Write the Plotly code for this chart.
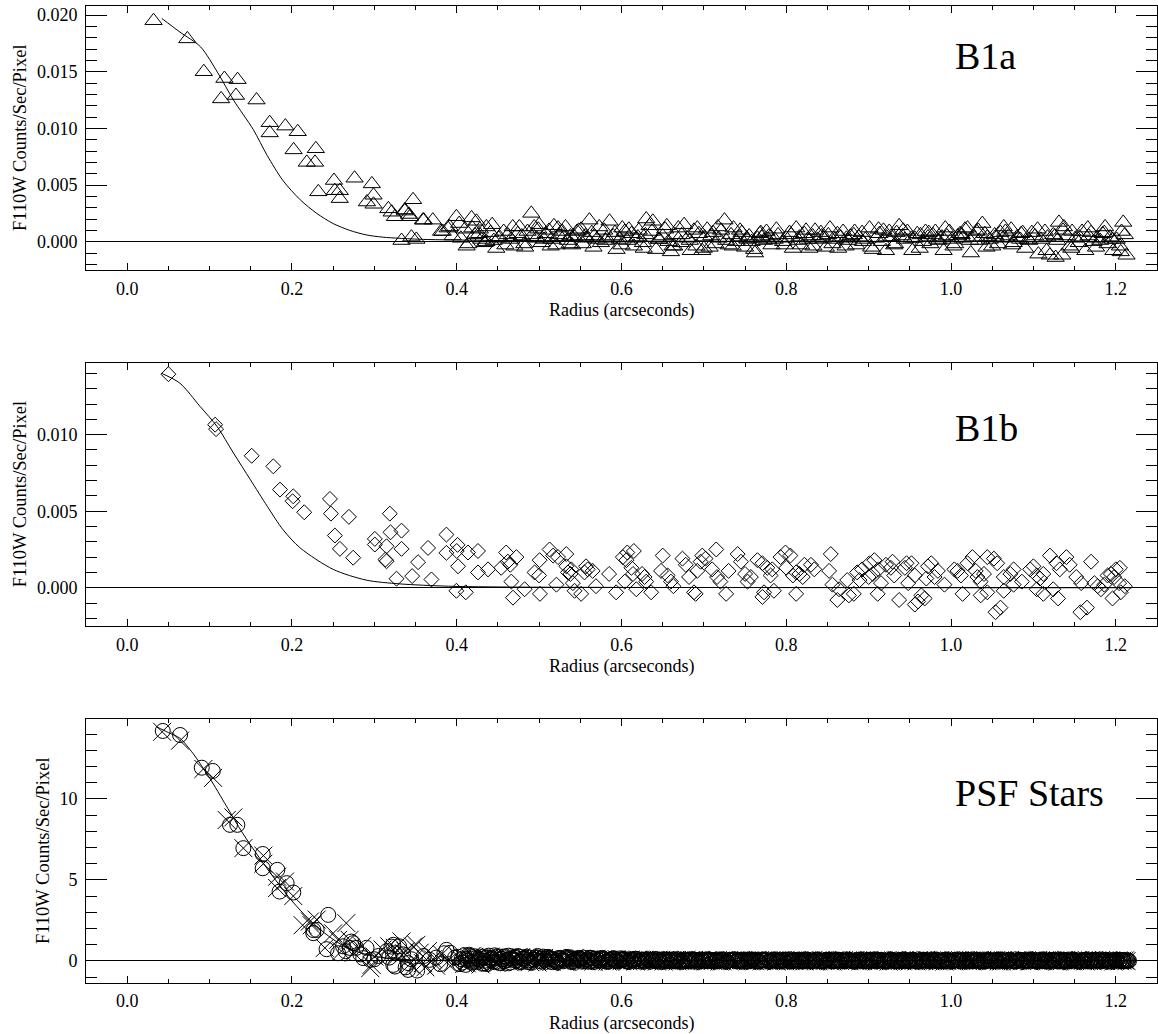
import plotly.graph_objects as go

# ---------------- Panel 1: B1a ----------------
b1a_x = [0.032, 0.073, 0.093, 0.118, 0.134, 0.114, 0.132, 0.157, 0.173, 0.173, 0.192, 0.207, 0.202, 0.229, 0.218, 0.228,
         0.232, 0.251, 0.252, 0.258, 0.258, 0.276, 0.297, 0.291, 0.299, 0.299, 0.317, 0.321, 0.325, 0.337, 0.347, 0.343,
         0.360, 0.371, 0.333, 0.345, 0.351, 0.383, 0.389, 0.337, 0.342, 0.359, 0.381, 0.3996, 0.3915, 0.395, 0.410, 0.418,
         0.424, 0.428, 0.436, 0.448, 0.436, 0.452, 0.462, 0.476, 0.482, 0.4905, 0.494, 0.500, 0.508, 0.518, 0.524, 0.532,
         0.538, 0.546, 0.540, 0.561, 0.557, 0.567, 0.575, 0.5855, 0.594, 0.590, 0.604, 0.612, 0.618, 0.630, 0.638, 0.634,
         0.626, 0.642, 0.650, 0.662, 0.660, 0.676, 0.672, 0.684, 0.694, 0.704, 0.698, 0.725, 0.714, 0.730, 0.740, 0.750,
         0.758, 0.770, 0.776, 0.762, 0.782, 0.796, 0.812, 0.808, 0.822, 0.828, 0.842, 0.838, 0.848, 0.862, 0.856, 0.878,
         0.872, 0.888, 0.901, 0.905, 0.913, 0.925, 0.921, 0.937, 0.941, 0.931, 0.953, 0.959, 0.969, 0.981, 0.975, 0.989,
         0.991, 1.001, 1.011, 1.017, 1.024, 1.020, 1.038, 1.034, 1.044, 1.050, 1.060, 1.066, 1.076, 1.084, 1.090, 1.102,
         1.106, 1.114, 1.120, 1.131, 1.127, 1.137, 1.135, 1.147, 1.159, 1.155, 1.163, 1.173, 1.187, 1.181, 1.193, 1.197,
         1.209, 1.211, 1.213, 1.205,
         0.405, 0.414, 0.422, 0.430, 0.441, 0.445, 0.457, 0.466, 0.470, 0.479, 0.486, 0.497, 0.503, 0.512, 0.515, 0.521,
         0.528, 0.535, 0.543, 0.551, 0.553, 0.564, 0.570, 0.579, 0.582, 0.598, 0.601, 0.607, 0.615, 0.621, 0.629, 0.646,
         0.653, 0.657, 0.665, 0.669, 0.680, 0.688, 0.691, 0.701, 0.707, 0.711, 0.718, 0.721, 0.733, 0.736, 0.743, 0.746,
         0.753, 0.755, 0.765, 0.768, 0.773, 0.779, 0.786, 0.790, 0.800, 0.804, 0.816, 0.818, 0.826, 0.832, 0.835, 0.845,
         0.851, 0.859, 0.866, 0.869, 0.875, 0.882, 0.885, 0.892, 0.896, 0.909, 0.916, 0.918, 0.928, 0.934, 0.944, 0.947,
         0.956, 0.963, 0.966, 0.972, 0.978, 0.985, 0.995, 0.998, 1.005, 1.008, 1.014, 1.028, 1.031, 1.041, 1.047, 1.053,
         1.057, 1.063, 1.070, 1.073, 1.080, 1.087, 1.094, 1.098, 1.109, 1.117, 1.124, 1.129, 1.141, 1.144, 1.151, 1.167,
         1.170, 1.177, 1.184, 1.190, 1.201, 1.207]
b1a_y = [0.0195, 0.0179, 0.0150, 0.0144, 0.0143, 0.0126, 0.0129, 0.0125, 0.0105, 0.0096, 0.0102, 0.0097, 0.0081, 0.0082,
         0.0070, 0.0070, 0.0044, 0.0054, 0.0045, 0.0045, 0.0038, 0.0056, 0.0051, 0.0035, 0.0041, 0.0033, 0.0029, 0.0026,
         0.0022, 0.0027, 0.0037, 0.0022, 0.0019, 0.0019, 0.0001, 0.0004, 0.0002, 0.0009, 0.0012, 0.0028, 0.0024, 0.0019,
         0.0009, 0.0022, 0.0013, 0.0005, 0.0011, 0.0021, 0.0018, 0.0011, 0.0013, -0.0006, 0.0000, 0.0004, 0.0006, 0.0013,
         -0.0002, 0.0025, 0.0013, 0.0015, 0.0007, 0.0014, 0.0006, 0.0013, 0.0005, 0.0009, -0.0003, 0.0019, 0.0003, 0.0005,
         -0.0001, 0.0018, -0.0007, 0.0005, 0.0009, 0.0007, 0.0003, 0.0020, 0.0018, 0.0014, -0.0001, -0.0007, 0.0005,
         -0.0004, -0.0009, 0.0015, -0.0001, -0.0008, 0.0007, 0.0011, -0.0008, 0.0019, -0.0002, -0.0003, 0.0000, -0.0005,
         0.0000, 0.0004, 0.0009, -0.0010, -0.0003, 0.0000, 0.0012, -0.0006, 0.0007, -0.0006, 0.0008, 0.0002, -0.0005,
         0.0007, -0.0002, 0.0005, -0.0004, 0.0004, 0.0012, -0.0007, 0.0007, 0.0009, -0.0008, 0.0014, 0.0005, -0.0003,
         -0.0008, 0.0007, 0.0009, 0.0009, -0.0002, 0.0004, -0.0008, 0.0002, 0.0007, 0.0011, -0.0010, 0.0012, 0.0016,
         0.0001, 0.0004, -0.0004, 0.0008, 0.0009, -0.0001, 0.0002, -0.0006, 0.0005, -0.0011, 0.0009, -0.0012, 0.0017,
         -0.0014, 0.0013, -0.0012, 0.0009, 0.0009, -0.0001, -0.0008, 0.0000, 0.0013, 0.0001, 0.0004, -0.0008, 0.0017,
         0.0006, -0.0012, -0.0004,
         0.0003, -0.0002, 0.0006, 0.0002, 0.0008, 0.0001, 0.0009, 0.0002, -0.0004, 0.0005, 0.0009, 0.0003, -0.0001,
         0.0010, 0.0002, -0.0003, 0.0009, 0.0001, 0.0004, 0.0011, -0.0002, 0.0008, 0.0002, 0.0010, 0.0003, 0.0002,
         0.0012, 0.0001, -0.0004, 0.0010, 0.0006, 0.0002, 0.0011, 0.0000, 0.0006, 0.0012, 0.0003, 0.0010, -0.0004,
         0.0004, -0.0005, 0.0008, 0.0003, 0.0010, 0.0006, 0.0012, 0.0004, 0.0008, 0.0002, 0.0005, 0.0003, 0.0007,
         0.0001, 0.0005, 0.0002, 0.0006, 0.0003, 0.0008, 0.0004, -0.0003, 0.0002, 0.0005, 0.0010, 0.0003, 0.0006,
         0.0002, 0.0004, 0.0009, 0.0001, 0.0006, -0.0003, 0.0008, 0.0002, 0.0003, 0.0000, 0.0010, 0.0004, 0.0008,
         0.0002, 0.0009, 0.0003, 0.0006, 0.0000, 0.0004, 0.0006, 0.0001, 0.0005, 0.0009, -0.0002, 0.0005, 0.0003,
         0.0004, 0.0009, 0.0007, 0.0002, 0.0006, -0.0002, 0.0003, 0.0005, 0.0011, 0.0004, 0.0008, 0.0002, 0.0008,
         0.0002, 0.0004, 0.0006, 0.0001, 0.0005, -0.0004, 0.0003, 0.0005, 0.0008, 0.0003, 0.0007, -0.0002, 0.0002,
         0.0009]
b1a_extra_x = [0.403, 0.412, 0.419, 0.427, 0.434, 0.443, 0.451, 0.459, 0.468, 0.474,
               0.483, 0.492, 0.499, 0.506, 0.514, 0.523, 0.530, 0.537, 0.548, 0.556,
               0.566, 0.573, 0.581, 0.592, 0.600, 0.609, 0.620, 0.627, 0.637, 0.645,
               0.655, 0.664, 0.673, 0.683, 0.692, 0.700, 0.709, 0.717, 0.727, 0.735,
               0.744, 0.752, 0.761, 0.769, 0.778, 0.788, 0.798, 0.806, 0.815, 0.824,
               0.833, 0.843, 0.853, 0.863, 0.873, 0.883, 0.893, 0.903, 0.912, 0.922,
               0.932, 0.942, 0.952, 0.962, 0.973, 0.983, 0.993, 1.003, 1.013, 1.023,
               1.033, 1.043, 1.054, 1.064, 1.074, 1.085, 1.095, 1.105, 1.116, 1.126,
               1.136, 1.146, 1.156, 1.166, 1.176, 1.186, 1.196, 1.206]
b1a_extra_y = [0.0016, -0.0004, 0.0012, 0.0007, -0.0001, 0.0015, 0.0003, -0.0003, 0.0013, 0.0007,
               -0.0005, 0.0006, 0.0011, 0.0002, -0.0004, 0.0012, 0.0004, -0.0002, 0.0010, 0.0005,
               -0.0005, 0.0013, 0.0001, 0.0008, -0.0003, 0.0011, 0.0004, -0.0006, 0.0009, 0.0002,
               0.0014, -0.0004, 0.0006, 0.0001, 0.0012, -0.0006, 0.0005, 0.0013, 0.0001, -0.0004,
               0.0010, 0.0003, -0.0007, 0.0008, 0.0002, 0.0011, -0.0003, 0.0006, 0.0001, 0.0010,
               -0.0004, 0.0005, 0.0012, -0.0006, 0.0003, 0.0009, 0.0000, -0.0005, 0.0011, 0.0004,
               -0.0002, 0.0010, 0.0003, -0.0006, 0.0008, 0.0002, 0.0012, -0.0004, 0.0006, 0.0001,
               0.0010, -0.0005, 0.0004, 0.0013, -0.0003, 0.0007, 0.0001, 0.0011, -0.0008, 0.0005,
               0.0010, -0.0006, 0.0004, 0.0012, -0.0005, 0.0008, 0.0002, -0.0009]
b1a_fit_x = [0.042, 0.064, 0.089, 0.110, 0.129, 0.153, 0.170, 0.189, 0.210, 0.230, 0.250, 0.270, 0.290, 0.310, 0.330,
             0.360, 0.400, 0.450, 0.500, 0.600, 0.800, 1.000, 1.220]
b1a_fit_y = [0.0197, 0.0185, 0.0172, 0.0149, 0.0125, 0.0099, 0.0076, 0.0054, 0.0037, 0.0025, 0.0016, 0.0010, 0.0006,
             0.0004, 0.0003, 0.0002, 0.00015, 0.0001, 0.0001, 0.00005, 0.00003, 0.00002, 0.00001]

# ---------------- Panel 2: B1b ----------------
b1b_x = [0.050, 0.1067, 0.1079, 0.1511, 0.1774, 0.1855, 0.2016, 0.2008, 0.2149, 0.2461, 0.2473, 0.2521, 0.2582, 0.2691,
         0.2743, 0.3006, 0.3006, 0.3148, 0.3188, 0.3196, 0.333, 0.333, 0.3135, 0.3269, 0.3459, 0.3531, 0.3652, 0.3693,
         0.3875, 0.3875, 0.3148, 0.401, 0.400, 0.4016, 0.4137, 0.4258, 0.3996, 0.411, 0.4258, 0.438, 0.454, 0.460, 0.462,
         0.465, 0.4724, 0.4663, 0.4683, 0.4824, 0.5006, 0.4945, 0.500, 0.501, 0.5127, 0.517, 0.523, 0.533, 0.521, 0.533,
         0.535, 0.538, 0.539, 0.541, 0.543, 0.551, 0.557, 0.559, 0.555, 0.565, 0.569, 0.585, 0.5935, 0.6016, 0.607, 0.615,
         0.606, 0.612, 0.614, 0.604, 0.618, 0.625, 0.628, 0.630, 0.636, 0.650, 0.648, 0.656, 0.660, 0.663, 0.674, 0.678,
         0.682, 0.688, 0.690, 0.696, 0.698, 0.702, 0.692, 0.715, 0.710, 0.716, 0.720, 0.727, 0.730, 0.741, 0.745, 0.750,
         0.753, 0.757, 0.765, 0.771, 0.777, 0.781,
         0.771, 0.773, 0.783, 0.785, 0.793, 0.799, 0.805, 0.800, 0.808, 0.812, 0.816, 0.820, 0.812, 0.822, 0.830, 0.834,
         0.854, 0.852, 0.856, 0.862, 0.864, 0.874, 0.876, 0.882, 0.886, 0.892, 0.889, 0.901, 0.907, 0.912, 0.900, 0.905,
         0.915, 0.911, 0.921, 0.927, 0.929, 0.931, 0.937, 0.944, 0.946, 0.952, 0.948, 0.956, 0.956, 0.960, 0.964, 0.968,
         0.972, 0.976, 0.984, 0.970, 0.980, 0.992, 1.004, 1.008, 1.012, 1.014, 1.020, 1.026, 1.030, 1.032, 1.036, 1.040,
         1.036, 1.044, 1.044, 1.052, 1.056, 1.054, 1.060, 1.064, 1.072, 1.076, 1.064, 1.076, 1.086, 1.096, 1.100, 1.104,
         1.108, 1.112, 1.104, 1.112, 1.120, 1.128, 1.132, 1.124, 1.130, 1.140, 1.144, 1.152, 1.158, 1.157, 1.165, 1.170,
         1.174, 1.178, 1.182, 1.186, 1.190, 1.194, 1.198, 1.200, 1.205, 1.196, 1.204, 1.206, 1.211]
b1b_y = [0.01395, 0.01065, 0.01036, 0.00862, 0.00793, 0.00641, 0.00597, 0.00565, 0.00493, 0.0058, 0.00484, 0.00341,
         0.00254, 0.00463, 0.00196, 0.00319, 0.00282, 0.00271, 0.00484, 0.00362, 0.00373, 0.00254, 0.00184, 0.00059,
         0.00076, 0.00167, 0.0026, 0.00054, 0.00347, 0.00228, 0.00173, 0.0028, 0.0024, 0.0014, 0.0023, 0.0024, -0.0002,
         -0.0003, 0.0010, 0.0012, 0.0013, 0.0023, 0.0017, 0.0015, 0.0020, 0.0004, -0.00065, -0.0001, 0.0018, 0.0010,
         0.0008, -0.0004, 0.0025, 0.0021, 0.0020, 0.0022, 0.0002, 0.0014, 0.0010, 0.0009, 0.0012, 0.0003, -0.0002,
         -0.0004, 0.0014, 0.0012, 0.0010, 0.0011, 0.0001, 0.0009, -0.0003, 0.0020, 0.0023, 0.0024, 0.0018, 0.0013,
         0.0009, 0.0004, -0.0001, 0.0009, 0.0007, 0.0004, -0.0003, 0.0021, 0.0011, 0.0008, 0.0004, 0.0001, 0.0019,
         0.0015, 0.0007, -0.0003, -0.0004, 0.0017, 0.0021, 0.0019, 0.0011, 0.0025, 0.0012, 0.0007, 0.0004, -0.0004,
         0.0011, 0.0022, 0.0017, 0.0009, 0.0004, 0.0007, 0.0018, -0.0006, 0.0013, 0.0008,
         0.0016, -0.0003, 0.0012, -0.0002, 0.0020, 0.0023, 0.0021, 0.0013, 0.0008, 0.0010, 0.0009, 0.0007, -0.0004,
         0.0015, 0.0015, 0.0012, 0.0022, 0.0011, 0.0002, -0.0008, -0.0001, 0.0005, -0.0005, -0.0004, 0.0010, 0.0012,
         0.0005, 0.0016, 0.0018, 0.0012, 0.0007, 0.0009, 0.0003, -0.0004, 0.0015, 0.0013, 0.0017, 0.0008, -0.0008,
         0.0013, 0.0016, 0.0016, 0.0003, 0.0008, -0.0011, -0.0009, -0.0005, -0.0007, 0.0014, 0.0016, 0.0011, 0.0006,
         0.0007, 0.0002, 0.0012, 0.0011, 0.0008, -0.0004, 0.0016, 0.0020, 0.0011, 0.0007, 0.0004, 0.0009, -0.0005,
         -0.0003, 0.0020, 0.0019, 0.0016, -0.0016, -0.0013, 0.0007, 0.0009, 0.0012, -0.0002, 0.0002, 0.0004, 0.0012,
         0.0014, 0.0008, 0.0006, 0.0009, -0.0001, -0.0004, 0.0021, 0.0016, 0.0012, -0.0001, -0.0007, 0.0020, 0.0015,
         0.0007, 0.0003, -0.0016, -0.0013, 0.0017, 0.0003, 0.0001, -0.0001, 0.0002, 0.0008, 0.0009, 0.0007, 0.0012,
         0.0013, -0.0007, 0.0003, -0.0003, 0.0001]
b1b_fit_x = [0.042, 0.064, 0.0885, 0.109, 0.129, 0.1495, 0.170, 0.189, 0.210, 0.250, 0.290, 0.331, 0.390, 0.450, 0.600,
             0.800, 1.000, 1.220]
b1b_fit_y = [0.0140, 0.01336, 0.01184, 0.01054, 0.0088, 0.00706, 0.00532, 0.0038, 0.0026, 0.0012, 0.0005, 0.00025,
             0.0001, 0.00005, 0.00002, 0.00001, 0.0, 0.0]

# ---------------- Panel 3: PSF Stars ----------------
psf_o_x = [0.0432, 0.0642, 0.0905, 0.1039, 0.1248, 0.1337, 0.141, 0.1645, 0.1645, 0.1822, 0.185, 0.1935, 0.2016, 0.244,
           0.2259, 0.230, 0.242, 0.256, 0.2743, 0.2703, 0.2905, 0.295, 0.3208, 0.325, 0.325, 0.341, 0.367, 0.385, 0.226,
           0.272, 0.2865, 0.323, 0.323, 0.341, 0.3875,
           0.315, 0.318, 0.330, 0.335, 0.338, 0.345, 0.352, 0.360, 0.375, 0.380, 0.392, 0.398, 0.262, 0.265, 0.278,
           0.283, 0.300, 0.305,
           0.402, 0.407, 0.411, 0.416, 0.419, 0.424, 0.428, 0.433, 0.437, 0.441, 0.446, 0.450, 0.455, 0.458, 0.463, 0.467,
           0.472, 0.476, 0.480, 0.485, 0.489, 0.494, 0.498, 0.502, 0.507, 0.511, 0.515, 0.520, 0.524, 0.528, 0.533, 0.537,
           0.541, 0.546, 0.550, 0.554, 0.559, 0.563, 0.567, 0.572, 0.576, 0.580, 0.585, 0.589, 0.593, 0.598, 0.602, 0.606,
           0.611, 0.615, 0.619, 0.624, 0.628, 0.632, 0.637, 0.641, 0.645, 0.650, 0.654, 0.658, 0.663, 0.667, 0.671, 0.676,
           0.680, 0.684, 0.689, 0.693, 0.697, 0.702, 0.706, 0.710, 0.715, 0.719, 0.723, 0.728, 0.732, 0.736, 0.741, 0.745,
           0.749, 0.754, 0.758, 0.762, 0.767, 0.771, 0.775, 0.780, 0.784, 0.788, 0.793, 0.797, 0.801, 0.806, 0.810, 0.814,
           0.819, 0.823, 0.827, 0.832, 0.836, 0.840, 0.845, 0.849, 0.853, 0.858, 0.862, 0.866, 0.871, 0.875, 0.879, 0.884,
           0.888, 0.892, 0.897, 0.901, 0.905, 0.910, 0.914, 0.918, 0.923, 0.927, 0.931, 0.936, 0.940, 0.944, 0.949, 0.953,
           0.957, 0.962, 0.966, 0.970, 0.975, 0.979, 0.983, 0.988, 0.992, 0.996, 1.001, 1.005, 1.009, 1.014, 1.018, 1.022,
           1.027, 1.031, 1.035, 1.040, 1.044, 1.048, 1.053, 1.057, 1.061, 1.066, 1.070, 1.074, 1.079, 1.083, 1.087, 1.092,
           1.096, 1.100, 1.105, 1.109, 1.113, 1.118, 1.122, 1.126, 1.131, 1.135, 1.139, 1.144, 1.148, 1.152, 1.157, 1.161,
           1.165, 1.170, 1.174, 1.178, 1.183, 1.187, 1.191, 1.196, 1.200, 1.204, 1.209, 1.216]
psf_o_y = [14.2, 13.95, 11.93, 11.73, 8.4, 8.4, 6.96, 6.6, 5.72, 5.62, 4.28, 4.8, 4.22, 2.84, 1.71, 1.91, 0.72, 0.47,
           1.09, 0.8, 0.8, 0.06, 0.88, 0.47, -0.35, -0.14, 0.06, 0.47, 1.9, 1.19, 0.17, 0.99, -0.25, -0.56, 0.68,
           0.6, 0.2, 0.9, 0.4, -0.4, 0.1, -0.6, 0.3, 0.2, -0.2, 0.5, 0.2, 0.9, 0.6, 0.8,
           0.4, 0.1, 0.3,
           0.25, -0.10, 0.12, 0.30, -0.05, 0.18, 0.05, -0.15, 0.22, 0.08, -0.08, 0.28, 0.10, -0.02, 0.32, 0.15, 0.02,
           0.26, 0.12, -0.06, 0.20, 0.08, 0.30, 0.14, 0.03, 0.22, 0.10, -0.04, 0.18, 0.07, 0.24, 0.12, 0.00, 0.16, 0.06,
           0.20, 0.10, -0.02, 0.14, 0.05, 0.18, 0.08, -0.03, 0.12, 0.04, 0.15, 0.07, -0.02, 0.10, 0.03, 0.12, 0.05,
           -0.03, 0.09, 0.02, 0.11, 0.04, -0.04, 0.08, 0.01, 0.10, 0.03, -0.05, 0.07, 0.00, 0.09, 0.02, -0.04, 0.06,
           0.01, 0.08, -0.02, 0.05, 0.00, 0.07, -0.03, 0.04, 0.08, 0.00, 0.05, -0.04, 0.06, 0.01, 0.07, -0.02, 0.04,
           0.08, 0.00, 0.05, -0.03, 0.06, 0.01, 0.07, -0.02, 0.04, 0.00, 0.06, -0.03, 0.05, 0.01, 0.07, -0.02, 0.03,
           0.06, 0.00, 0.05, -0.03, 0.04, 0.01, 0.06, -0.02, 0.03, 0.05, 0.00, 0.04, -0.03, 0.05, 0.01, 0.06, -0.02,
           0.03, 0.05, 0.00, 0.04, -0.03, 0.05, 0.01, 0.06, -0.02, 0.03, 0.05, 0.00, 0.04, -0.03, 0.05, 0.01, 0.06,
           -0.02, 0.03, 0.05, 0.00, 0.04, -0.03, 0.05, 0.01, 0.06, -0.02, 0.03, 0.05, 0.00, 0.04, -0.03, 0.05, 0.01,
           0.06, -0.02, 0.03, 0.05, 0.00, 0.04, -0.03, 0.05, 0.01, 0.06, -0.02, 0.03, 0.05, 0.00, 0.04, -0.03, 0.05,
           0.01, 0.06, -0.02, 0.03, 0.05, 0.00, 0.04, -0.03, 0.05, 0.01, 0.06, -0.02, 0.03, 0.05, 0.00, 0.04, 0.00]
psf_o2_x = [0.404, 0.409, 0.413, 0.418, 0.422, 0.426, 0.431, 0.435, 0.439, 0.444,
            0.448, 0.452, 0.457, 0.461, 0.465, 0.470, 0.474, 0.478, 0.483, 0.487,
            0.491, 0.496, 0.500, 0.505, 0.509, 0.513, 0.518, 0.522, 0.526, 0.531,
            0.535, 0.539, 0.544, 0.548, 0.552, 0.557, 0.561, 0.565, 0.570, 0.574,
            0.578, 0.583, 0.587, 0.591, 0.596, 0.600, 0.604, 0.609, 0.613, 0.617,
            0.622, 0.626, 0.630, 0.635, 0.639, 0.643, 0.648, 0.652, 0.656, 0.661,
            0.665, 0.669, 0.674, 0.678, 0.682, 0.687, 0.691, 0.695, 0.700, 0.704,
            0.708, 0.713, 0.717, 0.721, 0.726, 0.730, 0.734, 0.739, 0.743, 0.747,
            0.752, 0.756, 0.760, 0.765, 0.769, 0.773, 0.778, 0.782, 0.786, 0.791,
            0.795, 0.799, 0.804, 0.808, 0.812, 0.817, 0.821, 0.825, 0.830, 0.834,
            0.838, 0.843, 0.847, 0.851, 0.856, 0.860, 0.864, 0.869, 0.873, 0.877,
            0.882, 0.886, 0.890, 0.895, 0.899, 0.903, 0.908, 0.912, 0.916, 0.921,
            0.925, 0.929, 0.934, 0.938, 0.942, 0.947, 0.951, 0.955, 0.960, 0.964,
            0.968, 0.973, 0.977, 0.981, 0.986, 0.990, 0.994, 0.999, 1.003, 1.007,
            1.012, 1.016, 1.020, 1.025, 1.029, 1.033, 1.038, 1.042, 1.046, 1.051,
            1.055, 1.059, 1.064, 1.068, 1.072, 1.077, 1.081, 1.085, 1.090, 1.094,
            1.098, 1.103, 1.107, 1.111, 1.116, 1.120, 1.124, 1.129, 1.133, 1.137,
            1.142, 1.146, 1.150, 1.155, 1.159, 1.163, 1.168, 1.172, 1.176, 1.181,
            1.185, 1.189, 1.194, 1.198, 1.202, 1.207, 1.211, 1.214, 1.212, 1.208]
psf_o2_y = [-0.20, 0.35, 0.02, -0.12, 0.28, 0.10, -0.18, 0.20, 0.32, -0.04,
            0.15, -0.14, 0.24, 0.05, -0.10, 0.20, 0.30, -0.08, 0.16, 0.04,
            -0.12, 0.22, 0.00, 0.26, -0.06, 0.18, 0.08, -0.10, 0.14, 0.02,
            0.20, -0.07, 0.10, 0.16, -0.05, 0.02, 0.18, -0.08, 0.12, 0.00,
            0.14, -0.06, 0.08, 0.16, -0.03, 0.05, 0.11, -0.06, 0.07, 0.13,
            -0.04, 0.06, 0.10, -0.05, 0.03, 0.09, -0.06, 0.05, 0.08, -0.03,
            0.04, 0.09, -0.05, 0.02, 0.07, -0.04, 0.05, 0.08, -0.03, 0.03,
            0.07, -0.04, 0.02, 0.06, -0.05, 0.03, 0.07, -0.02, 0.04, 0.06,
            -0.04, 0.02, 0.07, -0.03, 0.04, 0.06, -0.05, 0.02, 0.06, -0.02,
            0.04, 0.07, -0.04, 0.02, 0.06, -0.03, 0.03, 0.07, -0.02, 0.04,
            0.06, -0.04, 0.02, 0.06, -0.03, 0.04, 0.07, -0.02, 0.03, 0.06,
            -0.04, 0.02, 0.06, -0.03, 0.04, 0.07, -0.02, 0.03, 0.06, -0.04,
            0.02, 0.06, -0.03, 0.04, 0.07, -0.02, 0.03, 0.06, -0.04, 0.02,
            0.06, -0.03, 0.04, 0.07, -0.02, 0.03, 0.06, -0.04, 0.02, 0.06,
            -0.03, 0.04, 0.07, -0.02, 0.03, 0.06, -0.04, 0.02, 0.06, -0.03,
            0.04, 0.07, -0.02, 0.03, 0.06, -0.04, 0.02, 0.06, -0.03, 0.04,
            0.07, -0.02, 0.03, 0.06, -0.04, 0.02, 0.06, -0.03, 0.04, 0.07,
            -0.02, 0.03, 0.06, -0.04, 0.02, 0.06, -0.03, 0.04, 0.07, -0.02,
            0.03, 0.06, -0.04, 0.02, 0.06, -0.03, 0.04, 0.01, -0.02, 0.05]
psf_o3_x = [0.406, 0.411, 0.415, 0.420, 0.424, 0.428, 0.433, 0.437, 0.442, 0.446,
            0.450, 0.455, 0.459, 0.463, 0.468, 0.472, 0.476, 0.481, 0.485, 0.489,
            0.494, 0.498, 0.503, 0.507, 0.511, 0.516, 0.520, 0.524, 0.529, 0.533,
            0.537, 0.542, 0.546, 0.550, 0.555, 0.559, 0.563, 0.568, 0.572, 0.576,
            0.581, 0.585, 0.589, 0.594, 0.598, 0.602, 0.607, 0.611, 0.615, 0.620,
            0.624, 0.628, 0.633, 0.637, 0.641, 0.646, 0.650, 0.654, 0.659, 0.663,
            0.667, 0.672, 0.676, 0.680, 0.685, 0.689, 0.693, 0.698, 0.702, 0.706,
            0.711, 0.715, 0.719, 0.724, 0.728, 0.732, 0.737, 0.741, 0.745, 0.750,
            0.754, 0.758, 0.763, 0.767, 0.771, 0.776, 0.780, 0.784, 0.789, 0.793,
            0.797, 0.802, 0.806, 0.810, 0.815, 0.819, 0.823, 0.828, 0.832, 0.836,
            0.841, 0.845, 0.849, 0.854, 0.858, 0.862, 0.867, 0.871, 0.875, 0.880,
            0.884, 0.888, 0.893, 0.897, 0.901, 0.906, 0.910, 0.914, 0.919, 0.923,
            0.927, 0.932, 0.936, 0.940, 0.945, 0.949, 0.953, 0.958, 0.962, 0.966,
            0.971, 0.975, 0.979, 0.984, 0.988, 0.992, 0.997, 1.001, 1.006, 1.010,
            1.014, 1.019, 1.023, 1.027, 1.032, 1.036, 1.040, 1.045, 1.049, 1.053,
            1.058, 1.062, 1.066, 1.071, 1.075, 1.079, 1.084, 1.088, 1.092, 1.097,
            1.101, 1.105, 1.110, 1.114, 1.118, 1.123, 1.127, 1.131, 1.136, 1.140,
            1.144, 1.149, 1.153, 1.157, 1.162, 1.166, 1.170, 1.175, 1.179, 1.183,
            1.188, 1.192, 1.196, 1.201, 1.205, 1.209, 1.213, 1.215, 1.210, 1.206]
psf_o3_y = [0.10, -0.25, 0.38, 0.15, -0.08, 0.26, 0.00, -0.20, 0.18, 0.34,
            -0.06, 0.12, 0.28, -0.15, 0.06, 0.22, -0.04, 0.14, 0.26, -0.10,
            0.08, 0.20, -0.05, 0.12, 0.24, -0.08, 0.04, 0.16, -0.03, 0.10,
            0.22, -0.06, 0.06, 0.14, -0.02, 0.09, 0.18, -0.05, 0.04, 0.12,
            -0.04, 0.07, 0.14, -0.02, 0.05, 0.10, -0.05, 0.03, 0.09, -0.01,
            0.06, -0.05, 0.03, 0.08, -0.02, 0.05, 0.09, -0.04, 0.02, 0.07,
            -0.03, 0.04, 0.08, -0.02, 0.03, 0.07, -0.05, 0.02, 0.06, -0.01,
            0.05, -0.03, 0.02, 0.07, -0.04, 0.04, 0.06, -0.02, 0.03, 0.08,
            -0.03, 0.05, 0.01, -0.04, 0.06, 0.03, -0.02, 0.07, 0.01, -0.03,
            0.05, 0.02, -0.04, 0.06, 0.01, -0.02, 0.07, 0.03, -0.03, 0.05,
            0.01, -0.04, 0.06, 0.02, -0.02, 0.07, 0.03, -0.03, 0.05, 0.01,
            -0.04, 0.06, 0.02, -0.02, 0.07, 0.03, -0.03, 0.05, 0.01, -0.04,
            0.06, 0.02, -0.02, 0.07, 0.03, -0.03, 0.05, 0.01, -0.04, 0.06,
            0.02, -0.02, 0.07, 0.03, -0.03, 0.05, 0.01, -0.04, 0.06, 0.02,
            -0.02, 0.07, 0.03, -0.03, 0.05, 0.01, -0.04, 0.06, 0.02, -0.02,
            0.07, 0.03, -0.03, 0.05, 0.01, -0.04, 0.06, 0.02, -0.02, 0.07,
            0.03, -0.03, 0.05, 0.01, -0.04, 0.06, 0.02, -0.02, 0.07, 0.03,
            -0.03, 0.05, 0.01, -0.04, 0.06, 0.02, -0.02, 0.07, 0.03, -0.03,
            0.05, 0.01, -0.04, 0.06, 0.02, -0.02, 0.04, 0.02, -0.03, 0.06]
psf_x_x = [0.0424, 0.0642, 0.0925, 0.1043, 0.1208, 0.1289, 0.141, 0.1653, 0.1653, 0.182, 0.182, 0.1915, 0.2016, 0.2218,
           0.230, 0.240, 0.250, 0.266, 0.256, 0.295, 0.300, 0.3248, 0.336, 0.347, 0.347, 0.359, 0.371, 0.213, 0.224,
           0.351, 0.3955, 0.2966,
           0.310, 0.318, 0.327, 0.333, 0.338, 0.343, 0.355, 0.362, 0.365, 0.375, 0.382, 0.388, 0.270, 0.275, 0.285,
           0.260,
           0.404, 0.409, 0.415, 0.421, 0.426, 0.432, 0.438, 0.444, 0.449, 0.455, 0.461, 0.466, 0.472, 0.478, 0.483, 0.489,
           0.495, 0.500, 0.506, 0.512, 0.517, 0.523, 0.529, 0.534, 0.540, 0.546, 0.551, 0.557, 0.563, 0.569, 0.574, 0.580,
           0.586, 0.591, 0.597, 0.603, 0.608, 0.614, 0.620, 0.625, 0.631, 0.637, 0.643, 0.648, 0.654, 0.660, 0.665, 0.671,
           0.677, 0.682, 0.688, 0.694, 0.699, 0.705, 0.711, 0.717, 0.722, 0.728, 0.734, 0.739, 0.745, 0.751, 0.756, 0.762,
           0.768, 0.773, 0.779, 0.785, 0.791, 0.796, 0.802, 0.808, 0.813, 0.819, 0.825, 0.830, 0.836, 0.842, 0.847, 0.853,
           0.859, 0.865, 0.870, 0.876, 0.882, 0.887, 0.893, 0.899, 0.904, 0.910, 0.916, 0.921, 0.927, 0.933, 0.938, 0.944,
           0.950, 0.955, 0.961, 0.967, 0.972, 0.978, 0.984, 0.990, 0.995, 1.001, 1.007, 1.012, 1.018, 1.024, 1.029, 1.035,
           1.041, 1.046, 1.052, 1.058, 1.063, 1.069, 1.075, 1.080, 1.086, 1.092, 1.097, 1.103, 1.109, 1.114, 1.120, 1.126,
           1.131, 1.137, 1.143, 1.148, 1.154, 1.160, 1.165, 1.171, 1.177, 1.182, 1.188, 1.194, 1.199, 1.205, 1.211]
psf_x_y = [14.15, 13.6, 11.85, 11.3, 8.7, 8.86, 6.96, 6.5, 6.0, 5.2, 4.5, 4.9, 4.0, 2.43, 2.55, 0.8, 1.7, 2.33, 1.3,
           -0.45, 0.27, 0.8, 0.47, 0.88, -0.35, -0.14, 0.1, 2.2, 2.2, 0.99, -0.14, -0.25,
           0.7, 0.9, 0.3, 1.2, 0.6, -0.2, 0.5, -0.4, 0.6, -0.3, 0.4, -0.1, 1.3, 0.5, 0.9,
           0.6,
           0.15, -0.20, 0.05, 0.25, -0.10, 0.12, 0.00, 0.20, -0.12, 0.08, 0.18, -0.05, 0.10, 0.22, 0.02, -0.08, 0.14,
           0.05, 0.18, -0.04, 0.09, 0.15, 0.01, -0.06, 0.10, 0.03, 0.14, -0.03, 0.07, 0.12, 0.00, 0.05, -0.04, 0.09,
           0.02, 0.06, -0.03, 0.04, 0.08, -0.01, 0.05, 0.01, -0.04, 0.06, 0.02, -0.02, 0.05, 0.00, 0.04, -0.03, 0.05,
           0.01, -0.02, 0.04, 0.00, 0.05, -0.03, 0.03, 0.01, -0.02, 0.04, 0.00, 0.03, -0.02, 0.04, 0.01, -0.03, 0.03,
           0.00, 0.04, -0.02, 0.02, 0.04, -0.01, 0.03, 0.00, -0.03, 0.04, 0.01, -0.02, 0.03, 0.00, 0.04, -0.02, 0.02,
           0.04, -0.01, 0.03, 0.00, -0.03, 0.04, 0.01, -0.02, 0.03, 0.00, 0.04, -0.02, 0.02, 0.04, -0.01, 0.03, 0.00,
           -0.03, 0.04, 0.01, -0.02, 0.03, 0.00, 0.04, -0.02, 0.02, 0.04, -0.01, 0.03, 0.00, -0.03, 0.04, 0.01, -0.02,
           0.03, 0.00, 0.04, -0.02, 0.02, 0.04, -0.01, 0.03, 0.00, -0.03, 0.04, 0.01, -0.02, 0.03, 0.00, 0.04, -0.02,
           0.02, 0.04, -0.01, 0.03, 0.00, -0.02, 0.03]
psf_x2_x = [0.407, 0.412, 0.418, 0.424, 0.429, 0.435, 0.441, 0.447, 0.452, 0.458,
            0.464, 0.469, 0.475, 0.481, 0.486, 0.492, 0.498, 0.503, 0.509, 0.515,
            0.520, 0.526, 0.532, 0.537, 0.543, 0.549, 0.554, 0.560, 0.566, 0.571,
            0.577, 0.583, 0.588, 0.594, 0.600, 0.605, 0.611, 0.617, 0.622, 0.628,
            0.634, 0.640, 0.645, 0.651, 0.657, 0.662, 0.668, 0.674, 0.679, 0.685,
            0.691, 0.696, 0.702, 0.708, 0.714, 0.719, 0.725, 0.731, 0.736, 0.742,
            0.748, 0.753, 0.759, 0.765, 0.770, 0.776, 0.782, 0.788, 0.793, 0.799,
            0.805, 0.810, 0.816, 0.822, 0.827, 0.833, 0.839, 0.844, 0.850, 0.856,
            0.862, 0.867, 0.873, 0.879, 0.884, 0.890, 0.896, 0.901, 0.907, 0.913,
            0.918, 0.924, 0.930, 0.935, 0.941, 0.947, 0.952, 0.958, 0.964, 0.970,
            0.975, 0.981, 0.987, 0.992, 0.998, 1.004, 1.009, 1.015, 1.021, 1.026,
            1.032, 1.038, 1.044, 1.049, 1.055, 1.061, 1.066, 1.072, 1.078, 1.083,
            1.089, 1.095, 1.100, 1.106, 1.112, 1.118, 1.123, 1.129, 1.135, 1.140,
            1.146, 1.152, 1.157, 1.163, 1.169, 1.174, 1.180, 1.186, 1.191, 1.197,
            1.203, 1.208, 1.213]
psf_x2_y = [0.22, -0.15, 0.30, 0.06, -0.22, 0.16, 0.26, -0.10, 0.10, 0.20,
            -0.08, 0.12, 0.24, -0.02, 0.08, 0.18, -0.10, 0.10, 0.02, -0.06,
            0.14, 0.04, -0.08, 0.12, 0.18, -0.02, 0.06, 0.10, -0.05, 0.02,
            0.09, -0.04, 0.06, 0.11, -0.02, 0.04, 0.08, -0.04, 0.02, 0.07,
            -0.03, 0.04, 0.07, -0.04, 0.02, 0.06, -0.03, 0.03, 0.07, -0.02,
            0.04, 0.06, -0.03, 0.02, 0.05, -0.04, 0.03, 0.06, -0.02, 0.02,
            0.05, -0.03, 0.03, 0.06, -0.02, 0.02, 0.05, -0.04, 0.03, 0.06,
            -0.02, 0.02, 0.05, -0.03, 0.03, 0.06, -0.02, 0.02, 0.05, -0.04,
            0.03, 0.06, -0.02, 0.02, 0.05, -0.03, 0.03, 0.06, -0.02, 0.02,
            0.05, -0.04, 0.03, 0.06, -0.02, 0.02, 0.05, -0.03, 0.03, 0.06,
            -0.02, 0.02, 0.05, -0.04, 0.03, 0.06, -0.02, 0.02, 0.05, -0.03,
            0.03, 0.06, -0.02, 0.02, 0.05, -0.04, 0.03, 0.06, -0.02, 0.02,
            0.05, -0.03, 0.03, 0.06, -0.02, 0.02, 0.05, -0.04, 0.03, 0.06,
            -0.02, 0.02, 0.05, -0.03, 0.03, 0.06, -0.02, 0.02, 0.05, -0.04,
            0.03, 0.01, -0.02]
psf_fit_x = [0.036, 0.050, 0.064, 0.080, 0.100, 0.120, 0.140, 0.160, 0.180, 0.200, 0.220, 0.240, 0.260, 0.280, 0.300,
             0.330, 0.360, 0.400, 0.500, 0.700, 1.000, 1.220]
psf_fit_y = [14.45, 14.1, 13.75, 12.8, 11.3, 9.6, 7.9, 6.4, 5.0, 3.7, 2.6, 1.7, 1.0, 0.55, 0.28, 0.10, 0.04, 0.01, 0.0,
             0.0, 0.0, 0.0]

panel_labels = ["B1a", "B1b", "PSF Stars"]
x_title = "Radius (arcseconds)"
y_title = "F110W Counts/Sec/Pixel"
x_ticks = [0.0, 0.2, 0.4, 0.6, 0.8, 1.0, 1.2]

# ---------------- layout geometry (pixels) ----------------
W, H = 1158, 1034
FONT = "Liberation Serif"
x0_px, x1_px = 86, 1157
panels_px = [(6, 270), (362.7, 626), (719.3, 982.7)]   # top, bottom of each frame
y_ranges = [[-0.0025, 0.0208], [-0.0025, 0.0147], [-1.35, 14.92]]
y_dticks = [0.005, 0.005, 5]
y_minor = [0.001, 0.001, 1]
y_fmt = [".3f", ".3f", "d"]
ytitle_xpx = [20, 20, 43]
label_ypx = [56, 428, 793]


def py(p):
    return 1 - p / H


fig = go.Figure()


def black_marker(symbol, size):
    return dict(symbol=symbol, size=size, color="black", line=dict(color="black", width=1))


def fit_line():
    return dict(color="black", width=1, shape="spline", smoothing=0.8)


fig.add_trace(go.Scatter(x=b1a_x + b1a_extra_x, y=b1a_y + b1a_extra_y, mode="markers",
                         marker=black_marker("triangle-up-open", 15), xaxis="x", yaxis="y"))
fig.add_trace(go.Scatter(x=b1a_fit_x, y=b1a_fit_y, mode="lines", line=fit_line(), xaxis="x", yaxis="y"))
fig.add_trace(go.Scatter(x=b1b_x, y=b1b_y, mode="markers", marker=black_marker("diamond-open", 11.5),
                         xaxis="x2", yaxis="y2"))
fig.add_trace(go.Scatter(x=b1b_fit_x, y=b1b_fit_y, mode="lines", line=fit_line(), xaxis="x2", yaxis="y2"))
fig.add_trace(go.Scatter(x=psf_o_x + psf_o2_x + psf_o3_x, y=psf_o_y + psf_o2_y + psf_o3_y, mode="markers",
                         marker=black_marker("circle-open", 15), xaxis="x3", yaxis="y3"))
fig.add_trace(go.Scatter(x=psf_x_x + psf_x2_x, y=psf_x_y + psf_x2_y, mode="markers",
                         marker=black_marker("x-thin-open", 18), xaxis="x3", yaxis="y3"))
fig.add_trace(go.Scatter(x=psf_fit_x, y=psf_fit_y, mode="lines", line=fit_line(), xaxis="x3", yaxis="y3"))

tickfont = dict(family=FONT, size=18, color="black")
layout = dict(width=W, height=H, margin=dict(l=0, r=0, t=0, b=0), paper_bgcolor="white", plot_bgcolor="white",
              showlegend=False, font=dict(family=FONT, color="black"))
annotations = []
for i in range(3):
    sfx = "" if i == 0 else str(i + 1)
    top, bot = panels_px[i]
    layout["xaxis" + sfx] = dict(
        domain=[x0_px / W, x1_px / W], range=[-0.05, 1.25], anchor="y" + sfx,
        tickmode="array", tickvals=x_ticks, ticktext=["%.1f" % v for v in x_ticks],
        ticks="inside", ticklen=7, tickwidth=1, tickcolor="black",
        minor=dict(ticks="inside", ticklen=4, dtick=0.05, tick0=0, tickcolor="black", tickwidth=1, showgrid=False),
        showline=True, linecolor="black", linewidth=1, mirror="ticks",
        showgrid=False, zeroline=False, tickfont=tickfont, ticklabelstandoff=2)
    layout["yaxis" + sfx] = dict(
        domain=[py(bot), py(top)], range=y_ranges[i], anchor="x" + sfx,
        dtick=y_dticks[i], tick0=0, tickformat=y_fmt[i],
        ticks="inside", ticklen=21, tickwidth=1, tickcolor="black",
        minor=dict(ticks="inside", ticklen=11, dtick=y_minor[i], tick0=0, tickcolor="black", tickwidth=1,
                   showgrid=False),
        showline=True, linecolor="black", linewidth=1, mirror="ticks",
        showgrid=False, zeroline=True, zerolinecolor="black", zerolinewidth=1,
        tickfont=tickfont, ticklabelstandoff=4)
    annotations.append(dict(text=x_title, x=621 / W, y=py(bot + 40.5), xref="paper", yref="paper",
                            xanchor="center", yanchor="middle", showarrow=False,
                            font=dict(family=FONT, size=18, color="black")))
    annotations.append(dict(text=y_title, x=ytitle_xpx[i] / W, y=py((top + bot) / 2), xref="paper", yref="paper",
                            xanchor="center", yanchor="middle", textangle=-90, showarrow=False,
                            font=dict(family=FONT, size=18.5, color="black")))

for i in range(3):
    annotations.append(dict(text=panel_labels[i], x=953 / W, y=py(label_ypx[i]), xref="paper", yref="paper",
                            xanchor="left", yanchor="middle", showarrow=False,
                            font=dict(family=FONT, size=38, color="black")))
layout["annotations"] = annotations
fig.update_layout(**layout)
fig.update_traces(showlegend=False, hoverinfo="skip")
fig.write_html("out.html", config={"displayModeBar": False},
               post_script="document.body.style.margin='0';document.body.style.overflow='hidden';")
